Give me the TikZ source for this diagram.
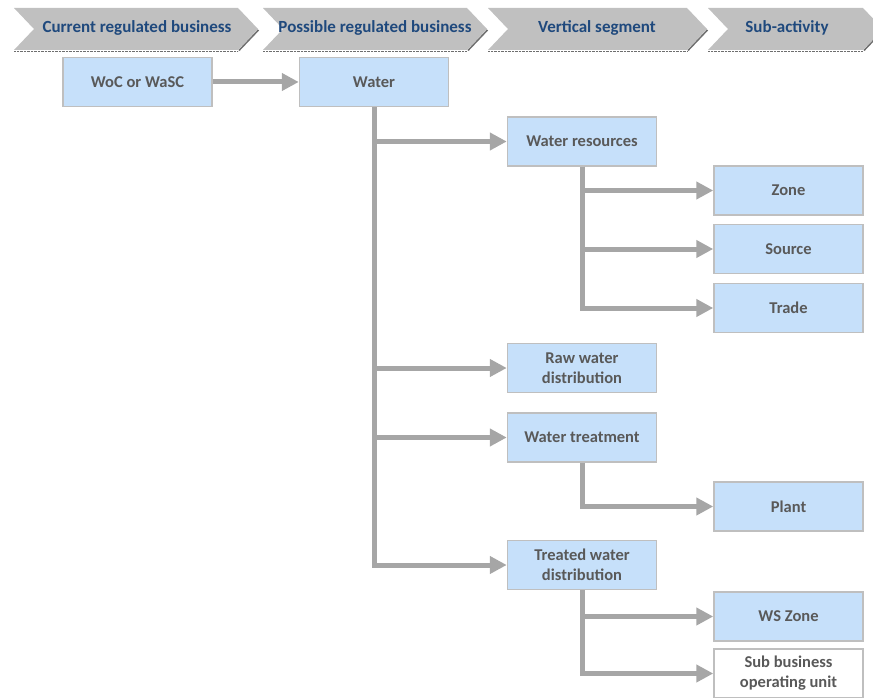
\documentclass[tikz,border=0pt]{standalone}
\usepackage{fontspec}
\setmainfont{Carlito}
\usetikzlibrary{arrows.meta}
\definecolor{boxfill}{RGB}{198,224,250}
\definecolor{boxline}{RGB}{191,191,191}
\definecolor{boxtext}{RGB}{89,89,89}
\definecolor{headfill}{RGB}{192,192,192}
\definecolor{headshade}{RGB}{110,110,110}
\definecolor{headtext}{RGB}{31,73,125}
\definecolor{linkgray}{RGB}{166,166,166}
\begin{document}
\begin{tikzpicture}[x=1pt,y=-1pt,
 box/.style={shape=rectangle,draw=boxline,line width=1.5pt,fill=boxfill,text=boxtext,
  font=\bfseries\fontsize{16.5}{20}\selectfont,align=center,
  minimum width=149pt,minimum height=49pt,inner sep=2pt},
 head/.style={text=headtext,font=\bfseries\fontsize{17}{20}\selectfont},
 shade/.style={draw=headshade,line width=1.5pt},
 link/.style={draw=linkgray,line width=5pt,-{Triangle[length=17pt,width=17pt]}}]
 \useasboundingbox (0,0) rectangle (873,698);

 % phase headers
 \fill[headfill] (14,8) -- (238,8) -- (258,29) -- (238,50) -- (14,50) -- (34,29) -- cycle;
 \draw[shade] (258.5,30) -- (239,50.5);
 \draw[headshade,densely dotted] (14,51) -- (238,51);
 \fill[headfill] (263,8) -- (467,8) -- (487,29) -- (467,50) -- (263,50) -- (283,29) -- cycle;
 \draw[shade] (487.5,30) -- (468,50.5);
 \draw[headshade,densely dotted] (263,51) -- (467,51);
 \fill[headfill] (488,8) -- (687,8) -- (707,29) -- (687,50) -- (488,50) -- (508,29) -- cycle;
 \draw[shade] (707.5,30) -- (688,50.5);
 \draw[headshade,densely dotted] (488,51) -- (687,51);
 \fill[headfill] (708,8) -- (863,8) -- (883,29) -- (863,50) -- (708,50) -- (728,29) -- cycle;
 \draw[shade] (883.5,30) -- (864,50.5);
 \draw[headshade,densely dotted] (708,51) -- (863,51);
 \node[head] (hcur) at (137,28) {Current regulated business};
 \node[head] (hpos) at (375,28) {Possible regulated business};
 \node[head] (hver) at (597,28) {Vertical segment};
 \node[head] (hsub) at (787,28) {Sub-activity};

 % boxes
 \node[box] (woc) at (137.5,82) {WoC or WaSC};
 \node[box] (water) at (374,82) {Water};
 \node[box] (wres) at (582,141.5) {Water resources};
 \node[box] (zone) at (788.5,190.5) {Zone};
 \node[box] (source) at (788.5,249) {Source};
 \node[box] (trade) at (788.5,308) {Trade};
 \node[box] (raw) at (582,368) {Raw water\\distribution};
 \node[box] (treat) at (582,437.5) {Water treatment};
 \node[box] (plant) at (788.5,506.5) {Plant};
 \node[box] (treated) at (582,565) {Treated water\\distribution};
 \node[box] (wszone) at (788.5,616.5) {WS Zone};
 \node[box,fill=white] (sbou) at (788.5,673.5) {Sub business\\operating unit};

 % connectors
 \draw[link] (woc) -- (water);
 \draw[link] (water.south) |- (wres);
 \draw[link] (water.south) |- (raw);
 \draw[link] (water.south) |- (treat);
 \draw[link] (water.south) |- (treated);
 \draw[link] (wres.south) |- (zone);
 \draw[link] (wres.south) |- (source);
 \draw[link] (wres.south) |- (trade);
 \draw[link] (treat.south) |- (plant);
 \draw[link] (treated.south) |- (wszone);
 \draw[link] (treated.south) |- (sbou);
\end{tikzpicture}
\end{document}
